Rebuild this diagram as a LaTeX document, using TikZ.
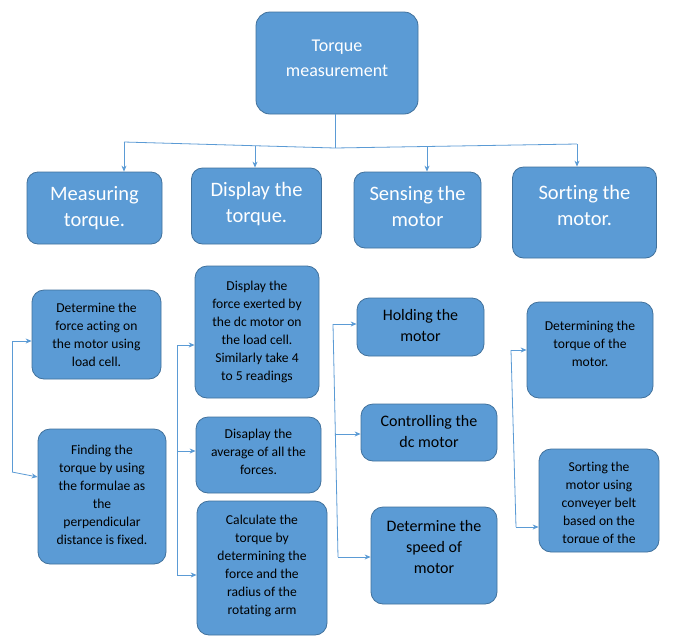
\documentclass[tikz,border=0pt]{standalone}
\usepackage{fontspec}
\setmainfont{Carlito}[Ligatures=NoCommon]
\usepackage{xcolor}
\definecolor{BoxFill}{HTML}{5B9BD5}
\definecolor{BoxLine}{HTML}{41719C}
\definecolor{Link}{HTML}{5B9BD5}
\usetikzlibrary{arrows.meta, calc}

\begin{document}
\begin{tikzpicture}[x=1pt, y=-1pt, >={Stealth[length=6pt,width=5pt]},
  sz/.style 2 args={minimum width=#1pt, minimum height=#2pt},
  lift/.style={text depth=#1pt},
  root/.style={rectangle, rounded corners=14pt, draw=BoxLine, line width=0.8pt,
               fill=BoxFill, text=white, align=center, inner sep=0pt,
               font=\fontsize{18}{25}\selectfont},
  head/.style={rectangle, rounded corners=11pt, draw=BoxLine, line width=0.8pt,
               fill=BoxFill, text=white, align=center, inner sep=0pt,
               font=\fontsize{20.5}{26}\selectfont},
  task/.style={rectangle, rounded corners=12pt, draw=BoxLine, line width=0.8pt,
               fill=BoxFill, text=black, align=center, inner sep=0pt,
               font=\fontsize{13.6}{18}\selectfont},
  bigtask/.style={task, font=\fontsize{16}{21}\selectfont},
  arr/.style={->, draw=Link, line width=0.8pt},
  link/.style={draw=Link, line width=0.8pt}
]

\useasboundingbox[fill=white] (0,0) rectangle (673,641);

%% ---- Top: main task ----
\node[root, sz={162}{102}, lift=10] (torque) at (337,63) {Torque\\measurement};

%% ---- Level 1: four sub tasks ----
\node[head, sz={135}{72}]          (measure) at ( 94.5,208) {Measuring\\torque.};
\node[head, sz={130}{76}, lift=8]  (display) at (256.5,206) {Display the\\torque.};
\node[head, sz={127}{76}, lift=8]  (sense)   at (417.5,210) {Sensing the\\motor};
\node[head, sz={144}{91}, lift=14] (sort)    at (584.5,212.5) {Sorting the\\motor.};

%% ---- Level 2: Measuring torque ----
\node[task, sz={129}{89}]          (force)   at ( 96.5,334.5) {Determine the\\force acting on\\the motor using\\load cell.};
\node[task, sz={128}{135}, lift=4] (formula) at (102,496.5) {Finding the\\torque by using\\the formulae as\\the\\perpendicular\\distance is fixed.};

%% ---- Level 2: Display the torque ----
\node[task, sz={124}{132}]          (reading) at (257,332) {Display the\\force exerted by\\the dc motor on\\the load cell.\\Similarly take 4\\to 5 readings};
\node[task, sz={125}{76}, lift=6]   (average) at (258.5,455) {Disaplay the\\average of all the\\forces.};
\node[task, sz={130}{134}, lift=6]  (radius)  at (262,568) {Calculate the\\torque by\\determining the\\force and the\\radius of the\\rotating arm};

%% ---- Level 2: Sensing the motor ----
\node[bigtask, sz={127}{58}, lift=3]  (hold)    at (420.5,327) {Holding the\\motor};
\node[bigtask, sz={136}{57}, lift=2]  (control) at (429,432.5) {Controlling the\\dc motor};
\node[bigtask, sz={126}{97}, lift=17] (speed)   at (434,555.5) {Determine the\\speed of\\motor};

%% ---- Level 2: Sorting the motor ----
\node[task, sz={126}{96}, lift=12] (measured) at (590,350) {Determining the\\torque of the\\motor.};
% text runs past the box, so it is cut off at the inner margin
\node[task, sz={120}{103}, path picture={
    \clip ([yshift=10pt]path picture bounding box.south west)
          rectangle (path picture bounding box.north east);
    \node[anchor=north, inner sep=0pt, align=center, text=black,
          font=\fontsize{13.6}{18}\selectfont] (belt-text)
      at ([yshift=-3pt]path picture bounding box.north)
      {Sorting the\\motor using\\conveyer belt\\based on the\\torque of the};
  }] (belt) at (599,500.5) {};

%% ---- Tree from the main task ----
% the bar is drawn a little askew, as in the sketch
\coordinate (hub) at (335,148);
\coordinate (d1) at (124,142);
\coordinate (d2) at (255,145.7);
\coordinate (d3) at (427,146.5);
\coordinate (d4) at (577,144);
\draw[link] (torque.south -| hub) -- (hub);
\draw[link] (d1) -- (hub) -- (d4);
\draw[arr] (d1) -- (d1 |- measure.north);
\draw[arr] (d2) -- (d2 |- display.north);
\draw[arr] (d3) -- (d3 |- sense.north);
\draw[arr] (d4) -- (d4 |- sort.north);

%% ---- Side brackets to the level 2 boxes ----
\coordinate (a1) at (12,341);
\coordinate (a2) at (12,472);
\coordinate (a3) at (35,477);
\draw[link] (a1) -- (a2);
\draw[arr] (a1) -- (a1 -| force.west);
\draw[arr] (a2) -- (a3 -| formula.west);

\coordinate (b1) at (177,345);
\coordinate (b2) at (177,451);
\coordinate (b3) at (177,575);
\draw[link] (b1) -- (b3);
\draw[arr] (b1) -- (b1 -| reading.west);
\draw[arr] (b2) -- (b2 -| average.west);
\draw[arr] (b3) -- (b3 -| radius.west);

\coordinate (c1) at (333,324);
\coordinate (c2) at (335.5,434);
\coordinate (c3) at (338,557);
\draw[link] (c1) -- (c3);
\draw[arr] (c1) -- (c1 -| hold.west);
\draw[arr] (c2) -- (c2 -| control.west);
\draw[arr] (c3) -- (c3 -| speed.west);

\coordinate (e1) at (511,350);
\coordinate (e2) at (516,527);
\draw[link] (e1) -- (e2);
\draw[arr] (e1) -- (e1 -| measured.west);
\draw[arr] (e2) -- (e2 -| belt.west);

\end{tikzpicture}
\end{document}
